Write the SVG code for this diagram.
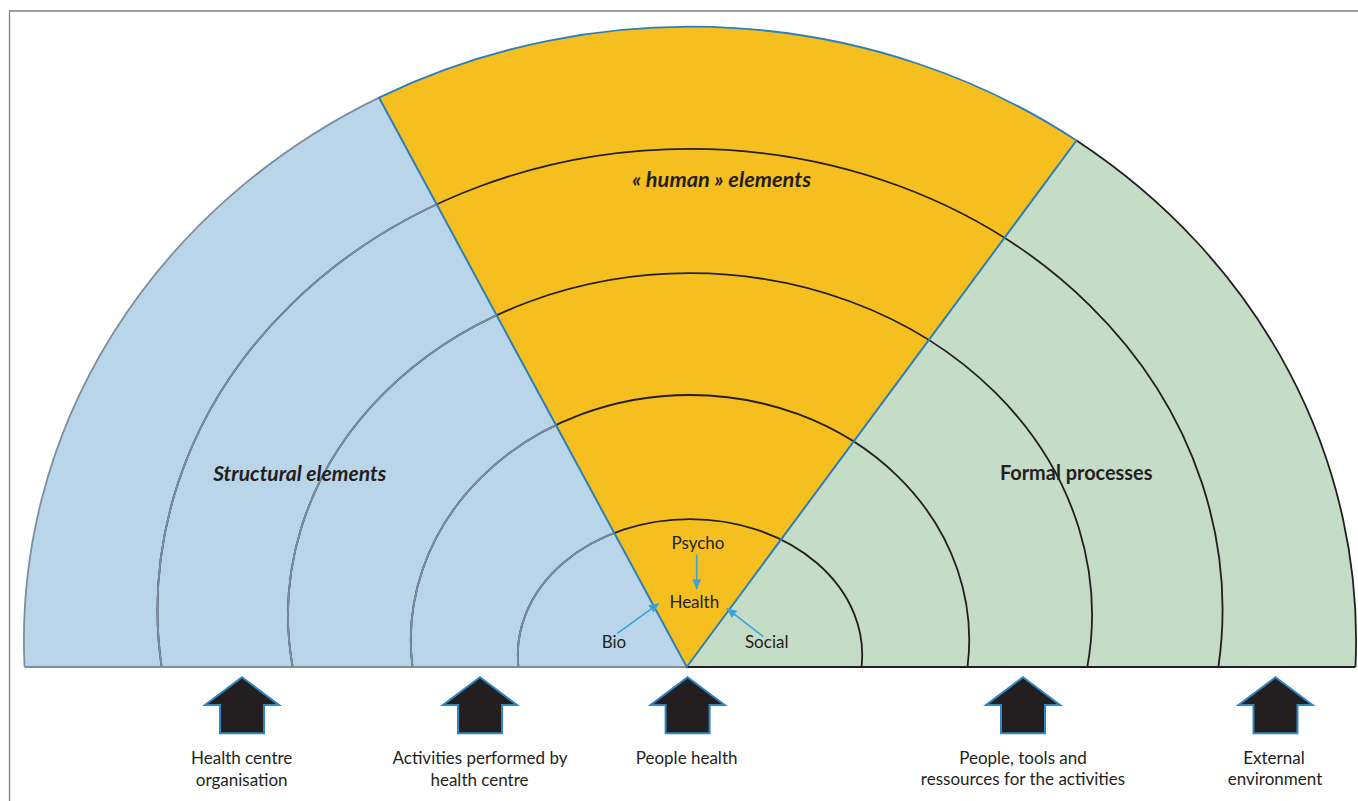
<svg xmlns="http://www.w3.org/2000/svg" width="1358" height="801" viewBox="0 0 1358 801">
<style>
.t{font-family:Lato,'Liberation Sans',sans-serif;font-size:17px;fill:#231f20;text-anchor:middle}
.h{font-weight:bold;font-style:italic;font-size:20px}
.b{font-weight:bold;font-size:20px}
.ring{fill:none;stroke:#231f20;stroke-width:1.8}
.ringg{fill:none;stroke:#7b8fa1;stroke-width:1.8}
.wedge{fill:none;stroke:#2e7fb8;stroke-width:2;stroke-linejoin:miter}
.up{fill:#231f20;stroke:#2f86c0;stroke-width:2}
.con{stroke:#3da1dc;stroke-width:1.6;fill:none}
.frame{fill:none;stroke:#808080;stroke-width:1.3}
</style>
<defs>
<clipPath id="clipBlue"><path d="M686.7 667 L379 97.6 A666.1 613.3 0 0 0 24.55 667 Z"/></clipPath>
<marker id="ah" viewBox="0 0 10 9" refX="10" refY="4.5" markerWidth="10" markerHeight="9" markerUnits="userSpaceOnUse" orient="auto"><path d="M0 0 L10 4.5 L0 9 Z" fill="#3da1dc"/></marker>
<path id="arrowUp" d="M0 0 L37 27.7 L22 27.7 L22 56 L-22 56 L-22 27.7 L-37 27.7 Z"/>
</defs>
<path class="frame" d="M9.5 801 V11 H1358"/>
<g id="sector-structural"><path d="M686.7 667 L379 97.6 A666.1 613.3 0 0 0 24.55 667 Z" fill="#b8d5ea"/></g>
<g id="sector-human"><path d="M686.7 667 L379 97.6 A666.1 613.3 0 0 1 1076.5 140.5 Z" fill="#f6bf20"/></g>
<g id="sector-formal"><path d="M686.7 667 L1076.5 140.5 A666.1 613.3 0 0 1 1355.45 667 Z" fill="#c5dcc6"/></g>
<g id="rings">
<path class="ring" d="M161.6 667 A532.5 461 0 1 1 1218.4 667"/>
<path class="ring" d="M292.7 667 A402 341.7 0 1 1 1087.3 667"/>
<path class="ring" d="M412.5 667 A279.2 245 0 1 1 967.5 667"/>
<path class="ring" d="M518.5 667 A172.2 135.7 0 1 1 861.5 667"/>
<g clip-path="url(#clipBlue)">
<path class="ringg" d="M161.6 667 A532.5 461 0 1 1 1218.4 667"/>
<path class="ringg" d="M292.7 667 A402 341.7 0 1 1 1087.3 667"/>
<path class="ringg" d="M412.5 667 A279.2 245 0 1 1 967.5 667"/>
<path class="ringg" d="M518.5 667 A172.2 135.7 0 1 1 861.5 667"/>
</g>
<path class="ringg" d="M24.55 667 A666.1 613.3 0 0 1 379 97.6"/>
<path fill="none" stroke="#2e7fb8" stroke-width="1.8" d="M379 97.6 A666.1 613.3 0 0 1 1076.5 140.5"/>
<path class="ring" d="M1076.5 140.5 A666.1 613.3 0 0 1 1355.45 667"/>
<path class="ringg" d="M24.55 667 H686.7"/>
<path class="ring" d="M686.7 667 H1355.45"/>
<path class="wedge" d="M379 97.6 L686.7 667 L1076.5 140.5"/>
</g>
<g id="region-labels">
<text class="t h" x="721.5" y="187" textLength="179" lengthAdjust="spacingAndGlyphs">« human » elements</text>
<text class="t h" x="299.7" y="480.7" textLength="173" lengthAdjust="spacingAndGlyphs">Structural elements</text>
<text class="t b" x="1076.2" y="480" textLength="152.6" lengthAdjust="spacingAndGlyphs">Formal processes</text>
</g>
<g id="node-psycho"><text class="t" x="698" y="549.3">Psycho</text></g>
<g id="node-health"><text class="t" x="694.3" y="608.3">Health</text></g>
<g id="node-bio"><text class="t" x="614" y="648.3">Bio</text></g>
<g id="node-social"><text class="t" x="766.7" y="648.3">Social</text></g>
<g id="connectors">
<path class="con" marker-end="url(#ah)" d="M696.7 554.3 L696.7 589.3"/>
<path class="con" marker-end="url(#ah)" d="M617.3 633.3 L659 603.3"/>
<path class="con" marker-end="url(#ah)" d="M763.3 636.7 L726.7 608.3"/>
</g>
<g id="input-organisation">
<use href="#arrowUp" class="up" transform="translate(242 677.3)"/>
<text class="t" x="241.7" y="764">Health centre</text>
<text class="t" x="241.7" y="785.5">organisation</text>
</g>
<g id="input-activities">
<use href="#arrowUp" class="up" transform="translate(480 677.3)"/>
<text class="t" x="480" y="764">Activities performed by</text>
<text class="t" x="479.5" y="785.5">health centre</text>
</g>
<g id="input-people-health">
<use href="#arrowUp" class="up" transform="translate(687.6 677.3)"/>
<text class="t" x="686.6" y="763.5">People health</text>
</g>
<g id="input-resources">
<use href="#arrowUp" class="up" transform="translate(1023 677.3)"/>
<text class="t" x="1023" y="763.5">People, tools and</text>
<text class="t" x="1023" y="785">ressources for the activities</text>
</g>
<g id="input-environment">
<use href="#arrowUp" class="up" transform="translate(1275.5 677.3)"/>
<text class="t" x="1274" y="763.5">External</text>
<text class="t" x="1275" y="785">environment</text>
</g>
</svg>
